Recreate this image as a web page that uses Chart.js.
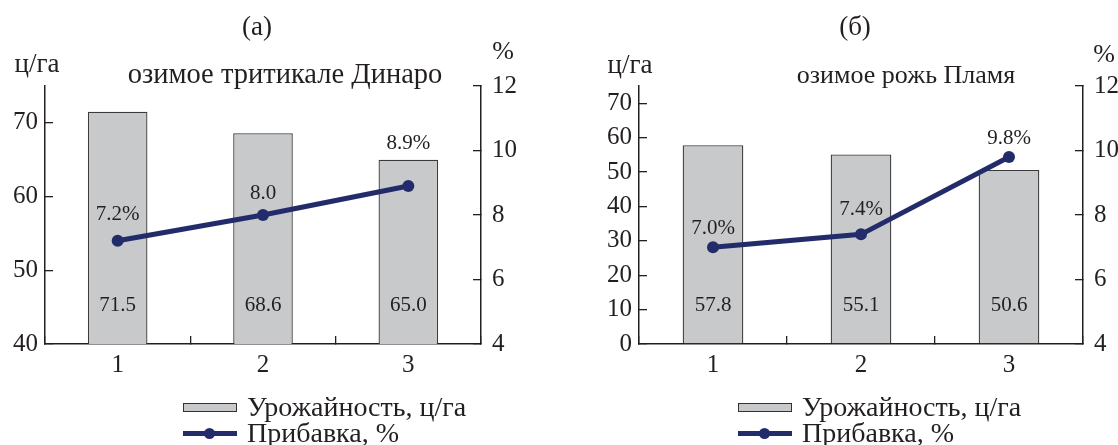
<!DOCTYPE html>
<html>
<head>
<meta charset="utf-8">
<script src="https://cdn.jsdelivr.net/npm/chart.js@4.4.1/dist/chart.umd.min.js"></script>
<style>
  html, body { margin: 0; padding: 0; background: #fff; }
  body { width: 1118px; height: 445px; position: relative; overflow: hidden;
         font-family: "Liberation Serif", "Times New Roman", serif; color: #231f20; }
  .panel { position: absolute; top: 0; width: 559px; height: 445px; }
  .legend { position: absolute; top: 394px; font-size: 28px; }
  .legend .row { display: flex; align-items: center; height: 26px; white-space: nowrap; }
  .swatch-bar { width: 52px; height: 7px; background: #c8c9cb; border: 1px solid #333; margin-right: 10px; }
  .swatch-line { position: relative; width: 54px; height: 5px; background: #232c6a; margin-right: 10px; }
  .swatch-line::after { content: ''; position: absolute; left: 21px; top: -3px; width: 11px; height: 11px;
                        border-radius: 50%; background: #232c6a; }
</style>
</head>
<body>
<div class="panel" style="left:0"><canvas id="chartA"></canvas></div>
<div class="panel" style="left:559px"><canvas id="chartB"></canvas></div>

<div class="legend" style="left:183px">
  <div class="row"><span class="swatch-bar"></span>Урожайность, ц/га</div>
  <div class="row"><span class="swatch-line"></span>Прибавка, %</div>
</div>
<div class="legend" style="left:738px">
  <div class="row"><span class="swatch-bar"></span>Урожайность, ц/га</div>
  <div class="row"><span class="swatch-line"></span>Прибавка, %</div>
</div>

<script>
const categories = ['1', '2', '3'];

// (а) озимое тритикале Динаро
const yieldA = [71.5, 68.6, 65.0];
const gainA = [7.2, 8.0, 8.9];
const gainTextA = ['7.2%', '8.0', '8.9%'];
const yieldTicksA = [40, 50, 60, 70];

// (б) озимое рожь Пламя
const yieldB = [57.8, 55.1, 50.6];
const gainB = [7.0, 7.4, 9.8];
const gainTextB = ['7.0%', '7.4%', '9.8%'];
const yieldTicksB = [0, 10, 20, 30, 40, 50, 60, 70];

const gainTicks = [4, 6, 8, 10, 12];

const INK = '#231f20';
const NAVY = '#232c6a';
const SERIF = '"Liberation Serif", "Times New Roman", serif';

Chart.defaults.font.family = SERIF;
Chart.defaults.color = INK;

function makeChart(id, cfg) {
  // texts over the plot: panel letter, units, crop name, value labels
  const overlay = {
    id: 'overlay',
    afterDatasetsDraw(chart) {
      const ctx = chart.ctx;
      const area = chart.chartArea;
      ctx.save();
      ctx.fillStyle = INK;
      ctx.textAlign = 'center';
      ctx.textBaseline = 'middle';

      cfg.headings.forEach(h => {
        ctx.font = h.size + 'px ' + SERIF;
        ctx.fillText(h.text, h.x, h.y);
      });

      ctx.font = '21px ' + SERIF;
      chart.getDatasetMeta(0).data.forEach((bar, i) => {
        ctx.fillText(cfg.yields[i].toFixed(1), bar.x, area.bottom - 39);
      });
      chart.getDatasetMeta(1).data.forEach((pt, i) => {
        ctx.fillText(cfg.gainText[i], pt.x, pt.y - cfg.lift[i]);
      });
      ctx.restore();
    }
  };

  const canvas = document.getElementById(id);
  canvas.width = 559;
  canvas.height = 445;

  return new Chart(canvas, {
    type: 'bar',
    data: {
      labels: categories,
      datasets: [
        {
          type: 'bar',
          label: 'Урожайность, ц/га',
          data: cfg.yields,
          yAxisID: 'y',
          backgroundColor: '#c8c9cb',
          borderColor: '#3a3a3a',
          borderWidth: 1.3,
          barPercentage: 0.41,
          categoryPercentage: 1,
          order: 1
        },
        {
          type: 'line',
          label: 'Прибавка, %',
          data: cfg.gains,
          yAxisID: 'y1',
          borderColor: NAVY,
          backgroundColor: NAVY,
          borderWidth: 5,
          pointRadius: 6,
          pointBorderWidth: 0,
          tension: 0,
          order: 0
        }
      ]
    },
    options: {
      responsive: false,
      animation: false,
      layout: { padding: { top: 86, bottom: 61, left: 0, right: 0 } },
      plugins: { legend: { display: false }, tooltip: { enabled: false } },
      scales: {
        x: {
          offset: true,
          grid: { offset: true, drawOnChartArea: false, tickLength: -8, color: INK, lineWidth: 1.3 },
          border: { color: INK, width: 1.5 },
          ticks: { font: { size: 25 }, padding: 14 },
          afterFit: s => { s.height = 40; }
        },
        y: {
          position: 'left',
          min: cfg.yMin,
          max: 75,
          afterBuildTicks: s => { s.ticks = cfg.yTicks.map(v => ({ value: v })); },
          grid: { drawOnChartArea: false, tickLength: -8, color: INK, lineWidth: 1.3 },
          border: { color: INK, width: 1.5 },
          ticks: { font: { size: 25 }, padding: 15 },
          afterFit: s => { s.width = cfg.left; }
        },
        y1: {
          position: 'right',
          min: 4,
          max: 12,
          afterBuildTicks: s => { s.ticks = gainTicks.map(v => ({ value: v })); },
          grid: { drawOnChartArea: false, tickLength: -8, color: INK, lineWidth: 1.3 },
          border: { color: INK, width: 1.5 },
          ticks: { font: { size: 25 }, padding: 19 },
          afterFit: s => { s.width = 559 - cfg.right; }
        }
      }
    },
    plugins: [overlay]
  });
}

makeChart('chartA', {
  yields: yieldA, gains: gainA, gainText: gainTextA,
  yMin: 40, yTicks: yieldTicksA,
  left: 45, right: 481,
  lift: [26, 22, 42],
  headings: [
    { text: '(а)', x: 257, y: 28, size: 27 },
    { text: 'ц/га', x: 37, y: 65, size: 27 },
    { text: '%', x: 503, y: 52, size: 26 },
    { text: 'озимое тритикале Динаро', x: 285, y: 76, size: 28.5 }
  ]
});

makeChart('chartB', {
  yields: yieldB, gains: gainB, gainText: gainTextB,
  yMin: 0, yTicks: yieldTicksB,
  left: 80, right: 524,
  lift: [19, 25, 18],
  headings: [
    { text: '(б)', x: 855 - 559, y: 28, size: 27 },
    { text: 'ц/га', x: 630 - 559, y: 66, size: 27 },
    { text: '%', x: 1104 - 559, y: 55, size: 26 },
    { text: 'озимое рожь Пламя', x: 906 - 559, y: 76, size: 26 }
  ]
});
</script>
</body>
</html>
